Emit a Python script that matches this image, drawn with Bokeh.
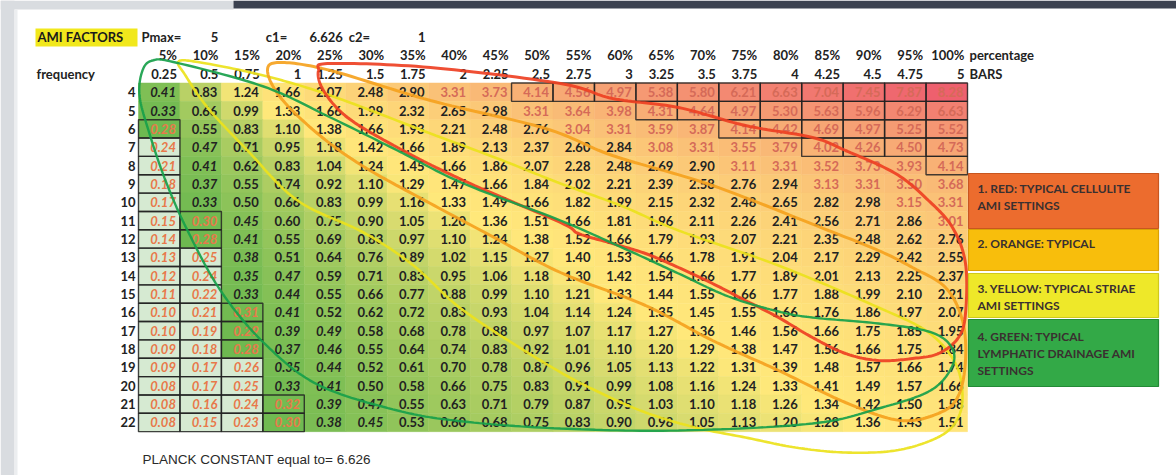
import numpy as np
from bokeh.plotting import figure
from bokeh.models import ColumnDataSource, Range1d
from bokeh.core.properties import value
from bokeh.embed import file_html
from bokeh.resources import INLINE

# ---------------- data ----------------
title_label = "AMI FACTORS"
param_labels = ["Pmax=", "c1=", "c2="]
param_values = ["5", "6.626", "1"]
percent_labels = ["5%", "10%", "15%", "20%", "25%", "30%", "35%", "40%", "45%", "50%",
                  "55%", "60%", "65%", "70%", "75%", "80%", "85%", "90%", "95%", "100%"]
bars_labels = ["0.25", "0.5", "0.75", "1", "1.25", "1.5", "1.75", "2", "2.25", "2.5",
               "2.75", "3", "3.25", "3.5", "3.75", "4", "4.25", "4.5", "4.75", "5"]
frequencies = [4, 5, 6, 7, 8, 9, 10, 11, 12, 13, 14, 15, 16, 17, 18, 19, 20, 21, 22]
ami_factors = [
    [0.41, 0.83, 1.24, 1.66, 2.07, 2.48, 2.90, 3.31, 3.73, 4.14, 4.56, 4.97, 5.38, 5.80, 6.21, 6.63, 7.04, 7.45, 7.87, 8.28],
    [0.33, 0.66, 0.99, 1.33, 1.66, 1.99, 2.32, 2.65, 2.98, 3.31, 3.64, 3.98, 4.31, 4.64, 4.97, 5.30, 5.63, 5.96, 6.29, 6.63],
    [0.28, 0.55, 0.83, 1.10, 1.38, 1.66, 1.93, 2.21, 2.48, 2.76, 3.04, 3.31, 3.59, 3.87, 4.14, 4.42, 4.69, 4.97, 5.25, 5.52],
    [0.24, 0.47, 0.71, 0.95, 1.18, 1.42, 1.66, 1.89, 2.13, 2.37, 2.60, 2.84, 3.08, 3.31, 3.55, 3.79, 4.02, 4.26, 4.50, 4.73],
    [0.21, 0.41, 0.62, 0.83, 1.04, 1.24, 1.45, 1.66, 1.86, 2.07, 2.28, 2.48, 2.69, 2.90, 3.11, 3.31, 3.52, 3.73, 3.93, 4.14],
    [0.18, 0.37, 0.55, 0.74, 0.92, 1.10, 1.29, 1.47, 1.66, 1.84, 2.02, 2.21, 2.39, 2.58, 2.76, 2.94, 3.13, 3.31, 3.50, 3.68],
    [0.17, 0.33, 0.50, 0.66, 0.83, 0.99, 1.16, 1.33, 1.49, 1.66, 1.82, 1.99, 2.15, 2.32, 2.48, 2.65, 2.82, 2.98, 3.15, 3.31],
    [0.15, 0.30, 0.45, 0.60, 0.75, 0.90, 1.05, 1.20, 1.36, 1.51, 1.66, 1.81, 1.96, 2.11, 2.26, 2.41, 2.56, 2.71, 2.86, 3.01],
    [0.14, 0.28, 0.41, 0.55, 0.69, 0.83, 0.97, 1.10, 1.24, 1.38, 1.52, 1.66, 1.79, 1.93, 2.07, 2.21, 2.35, 2.48, 2.62, 2.76],
    [0.13, 0.25, 0.38, 0.51, 0.64, 0.76, 0.89, 1.02, 1.15, 1.27, 1.40, 1.53, 1.66, 1.78, 1.91, 2.04, 2.17, 2.29, 2.42, 2.55],
    [0.12, 0.24, 0.35, 0.47, 0.59, 0.71, 0.83, 0.95, 1.06, 1.18, 1.30, 1.42, 1.54, 1.66, 1.77, 1.89, 2.01, 2.13, 2.25, 2.37],
    [0.11, 0.22, 0.33, 0.44, 0.55, 0.66, 0.77, 0.88, 0.99, 1.10, 1.21, 1.33, 1.44, 1.55, 1.66, 1.77, 1.88, 1.99, 2.10, 2.21],
    [0.10, 0.21, 0.31, 0.41, 0.52, 0.62, 0.72, 0.83, 0.93, 1.04, 1.14, 1.24, 1.35, 1.45, 1.55, 1.66, 1.76, 1.86, 1.97, 2.07],
    [0.10, 0.19, 0.29, 0.39, 0.49, 0.58, 0.68, 0.78, 0.88, 0.97, 1.07, 1.17, 1.27, 1.36, 1.46, 1.56, 1.66, 1.75, 1.85, 1.95],
    [0.09, 0.18, 0.28, 0.37, 0.46, 0.55, 0.64, 0.74, 0.83, 0.92, 1.01, 1.10, 1.20, 1.29, 1.38, 1.47, 1.56, 1.66, 1.75, 1.84],
    [0.09, 0.17, 0.26, 0.35, 0.44, 0.52, 0.61, 0.70, 0.78, 0.87, 0.96, 1.05, 1.13, 1.22, 1.31, 1.39, 1.48, 1.57, 1.66, 1.74],
    [0.08, 0.17, 0.25, 0.33, 0.41, 0.50, 0.58, 0.66, 0.75, 0.83, 0.91, 0.99, 1.08, 1.16, 1.24, 1.33, 1.41, 1.49, 1.57, 1.66],
    [0.08, 0.16, 0.24, 0.32, 0.39, 0.47, 0.55, 0.63, 0.71, 0.79, 0.87, 0.95, 1.03, 1.10, 1.18, 1.26, 1.34, 1.42, 1.50, 1.58],
    [0.08, 0.15, 0.23, 0.30, 0.38, 0.45, 0.53, 0.60, 0.68, 0.75, 0.83, 0.90, 0.98, 1.05, 1.13, 1.20, 1.28, 1.36, 1.43, 1.51],
]
legend_labels = [
    ["1. RED: TYPICAL CELLULITE", "AMI SETTINGS"],
    ["2. ORANGE: TYPICAL"],
    ["3. YELLOW: TYPICAL STRIAE", "AMI SETTINGS"],
    ["4. GREEN: TYPICAL", "LYMPHATIC DRAINAGE  AMI", "SETTINGS"],
]
footer_label = "PLANCK CONSTANT equal to= 6.626"

# ---------------- layout helpers (reference pixel -> sheet units) ----------------
W, H = 1176, 475
def X(px):
    return (px - 138.0) / 41.45 + 0.5
def Y(py):
    return (py - 82.5) / 18.35 + 3.5

FONT = value("Lato")

p = figure(width=W, height=H, output_backend="svg", toolbar_location=None,
           x_range=Range1d(X(0), X(W)), y_range=Range1d(Y(H), Y(0)),
           x_axis_location=None, y_axis_location=None, min_border=0)
p.grid.visible = False
p.outline_line_color = None
p.background_fill_color = "white"
p.border_fill_color = "white"

# slide background around the page
p.quad(left=[X(0), X(0), X(233)], right=[X(14), X(233), X(W)],
       bottom=[Y(H), Y(9), Y(8)], top=[Y(0), Y(0), Y(0)],
       fill_color=["#d9dce0", "#d9dce0", "#3c4250"], line_color=None)
p.quad(left=[X(14)], right=[X(17)], bottom=[Y(H)], top=[Y(9)],
       fill_color="#eceef0", line_color=None)

# ---------------- heat-map cells ----------------
vals = np.array(ami_factors)
vmin, vmed, vmax = vals.min(), np.median(vals), vals.max()
c_lo = np.array([82, 176, 72.0])
c_mid = np.array([255, 232, 122.0])
c_hi = np.array([238, 96, 110.0])

def scale_color(v):
    if v <= vmed:
        t = (v - vmin) / (vmed - vmin)
        c = c_lo + t * (c_mid - c_lo)
    else:
        t = (v - vmed) / (vmax - vmed)
        c = c_mid + t * (c_hi - c_mid)
    return "#%02x%02x%02x" % tuple(int(round(x)) for x in c)

cx, cy, cfill, ctext, tcol, tstyle = [], [], [], [], [], []
bx, by = [], []
for ri, f in enumerate(frequencies):
    for ci, v in enumerate(ami_factors[ri]):
        k = ci + 1
        cx.append(k)
        cy.append(f)
        fill = scale_color(v)
        if v <= 0.26:
            fill = "#d6ead2"
        cfill.append(fill)
        ctext.append("%.2f" % v)
        if v < 0.33:
            tcol.append("#e8784a")
            tstyle.append("bold italic")
        elif v < 0.495:
            tcol.append("#222222")
            tstyle.append("bold italic")
        elif v >= 3.0:
            tcol.append("#d56a58")
            tstyle.append("bold")
        else:
            tcol.append("#222222")
            tstyle.append("bold")
        if v < 0.33 or v > 4.0:
            bx.append(k)
            by.append(f)

cells = ColumnDataSource(dict(x=cx, y=cy, fill=cfill, text=ctext, tc=tcol, ts=tstyle,
                              xr=[k + 0.5 for k in cx]))
p.rect(x="x", y="y", width=1, height=1, source=cells, fill_color="fill",
       line_color="fill", line_width=0.5)
p.rect(x=bx, y=by, width=1, height=1, fill_alpha=0, line_color="#222222",
       line_width=1.4, line_alpha=0.85)
p.text(x="xr", y="y", text="text", source=cells, text_color="tc", text_font_style="ts",
       text_font=FONT, text_font_size="13px", text_align="right",
       text_baseline="middle", x_offset=-4)

# ---------------- headers ----------------
cols = list(range(1, 21))
p.text(x=[k + 0.5 for k in cols], y=[2] * 20, text=percent_labels, text_font=FONT,
       text_font_size="13px", text_font_style="bold", text_color="#222222",
       text_align="right", text_baseline="middle", x_offset=-3)
p.text(x=[k + 0.5 for k in cols], y=[3] * 20, text=bars_labels, text_font=FONT,
       text_font_size="13px", text_font_style="bold", text_color="#222222",
       text_align="right", text_baseline="middle", x_offset=-3)
p.text(x=[20.5, 20.5], y=[2, 3], text=["percentage", "BARS"], text_font=FONT,
       text_font_size="13px", text_font_style="bold", text_color="#222222",
       text_align="left", text_baseline="middle", x_offset=2)
p.text(x=[X(36)], y=[3], text=["frequency"], text_font=FONT, text_font_size="13px",
       text_font_style="bold", text_color="#222222", text_align="left",
       text_baseline="middle")
p.text(x=[0.5] * len(frequencies), y=frequencies, text=[str(f) for f in frequencies],
       text_font=FONT, text_font_size="13px", text_font_style="bold",
       text_color="#222222", text_align="right", text_baseline="middle", x_offset=-3)

# title row
p.quad(left=[X(35)], right=[X(137)], bottom=[Y(46)], top=[Y(28)],
       fill_color="#f1e81c", line_color=None)
p.text(x=[X(37)], y=[1], text=[title_label], text_font=FONT, text_font_size="13px",
       text_font_style="bold", text_color="#1a1a1a", text_align="left",
       text_baseline="middle")
p.text(x=[0.5, 3.5, 5.5], y=[1, 1, 1], text=param_labels, text_font=FONT,
       text_font_size="13px", text_font_style="bold", text_color="#222222",
       text_align="left", text_baseline="middle", x_offset=3)
p.text(x=[2.5, 5.5, 7.5], y=[1, 1, 1], text=param_values, text_font=FONT,
       text_font_size="13px", text_font_style="bold", text_color="#222222",
       text_align="right", text_baseline="middle", x_offset=-3)

# footer
p.text(x=[X(142)], y=[24], text=[footer_label], text_font=value("Liberation Sans"),
       text_font_size="13.5px", text_color="#2a2a2a", text_align="left",
       text_baseline="middle")

# ---------------- hand-drawn loops ----------------
def closed_spline(pts, n=16):
    P = np.array(pts, float)
    N = len(P)
    t = np.linspace(0, 1, n, endpoint=False)[:, None]
    t2, t3 = t * t, t * t * t
    out = []
    for i in range(N):
        p0, p1, p2, p3 = P[(i - 1) % N], P[i], P[(i + 1) % N], P[(i + 2) % N]
        seg = 0.5 * (2 * p1 + (-p0 + p2) * t + (2 * p0 - 5 * p1 + 4 * p2 - p3) * t2
                     + (-p0 + 3 * p1 - 3 * p2 + p3) * t3)
        out.append(seg)
    out.append(P[:1])
    S = np.vstack(out)
    return [X(a) for a in S[:, 0]], [Y(b) for b in S[:, 1]]

loop_green = [(152, 60), (175, 62), (263, 86), (330, 117), (397, 150), (463, 183),
              (560, 220), (628, 250), (678, 273), (728, 296), (778, 311), (812, 317),
              (878, 323), (928, 331), (950, 345), (952, 365), (930, 390), (878, 408),
              (812, 423), (678, 430), (560, 428), (463, 421), (397, 410), (317, 384),
              (263, 342), (220, 290), (187, 230), (165, 180), (148, 130), (139, 95),
              (142, 70)]
loop_yellow = [(178, 61), (200, 62), (263, 75), (330, 95), (430, 133), (497, 158),
               (560, 183), (620, 205), (678, 230), (778, 265), (878, 307), (928, 332),
               (955, 363), (962, 397), (955, 422), (935, 438), (895, 450), (845, 452),
               (795, 447), (745, 437), (695, 427), (645, 412), (595, 390), (545, 363),
               (463, 310), (413, 265), (363, 232), (297, 200), (247, 150), (207, 107),
               (185, 75)]
loop_orange = [(267, 70), (280, 62), (330, 70), (430, 100), (545, 128), (612, 155),
               (712, 185), (828, 230), (878, 250), (912, 267), (945, 287), (962, 320),
               (965, 360), (958, 395), (940, 412), (900, 420), (845, 402), (778, 370),
               (712, 340), (645, 305), (560, 272), (490, 235), (430, 203), (363, 166),
               (317, 133), (280, 97)]
loop_red = [(318, 70), (330, 63), (430, 67), (560, 83), (612, 98), (678, 107),
            (745, 125), (812, 137), (845, 150), (895, 173), (928, 200), (952, 227),
            (965, 263), (965, 313), (958, 337), (938, 353), (912, 358), (878, 360),
            (845, 353), (812, 337), (778, 317), (745, 300), (712, 283), (678, 267),
            (645, 253), (612, 243), (578, 233), (560, 222), (463, 180), (397, 147),
            (347, 117), (323, 90)]

for pts, col, lw in [(loop_yellow, "#ece21c", 2.6), (loop_orange, "#f5a21e", 3.0),
                     (loop_red, "#ee4023", 3.0), (loop_green, "#17a04a", 2.4)]:
    lx, ly = closed_spline(pts)
    p.line(lx, ly, line_color=col, line_width=lw, line_alpha=0.92)

# ---------------- legend boxes ----------------
box_top = [173, 229, 273, 319]
box_bottom = [228, 270, 317, 386]
box_fill = ["#ec6c2e", "#f8be0c", "#eee829", "#33a947"]
box_line = ["#c8561f", "#d9a006", "#cfc91c", "#238a36"]
p.quad(left=[X(968)] * 4, right=[X(1158)] * 4, top=[Y(t) for t in box_top],
       bottom=[Y(b) for b in box_bottom], fill_color=box_fill, line_color=box_line,
       line_width=1.2)
line_y = [[188, 205], [243], [288, 305], [336, 353, 370]]
lt_x, lt_y, lt_t = [], [], []
for lines, ys in zip(legend_labels, line_y):
    for s, yy in zip(lines, ys):
        lt_x.append(X(977))
        lt_y.append(Y(yy))
        lt_t.append(s)
p.text(x=lt_x, y=lt_y, text=lt_t, text_font=FONT, text_font_size="12px",
       text_font_style="bold", text_color="#3a3030", text_align="left",
       text_baseline="middle")

open("out.html", "w").write(file_html(p, INLINE))
